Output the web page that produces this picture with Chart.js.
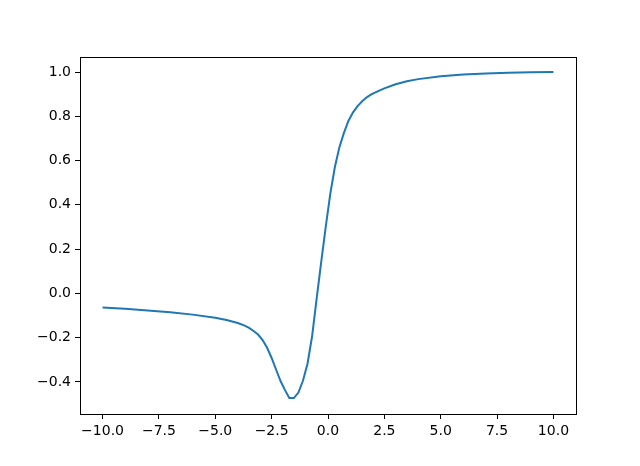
<!DOCTYPE html>
<html>
<head>
<meta charset="utf-8">
<script src="https://cdn.jsdelivr.net/npm/chart.js@4.4.0/dist/chart.umd.js"></script>
<style>
    html, body { margin: 0; padding: 0; background: #ffffff; }
    canvas { display: block; }
</style>
</head>
<body>
<canvas id="lineChart" width="640" height="466"></canvas>
<script>
// values
const xValues = [
    -10, -9, -8, -7, -6, -5, -4.5, -4, -3.7, -3.5, -3.3, -3.1, -2.9, -2.7, -2.5, -2.3, -2.1,
    -1.919, -1.717, -1.515, -1.313, -1.111, -0.909, -0.707, -0.505, -0.303, -0.101,
    0.101, 0.303, 0.505, 0.707, 0.909, 1.111, 1.313, 1.515, 1.717, 1.919,
    2.2, 2.5, 3.0, 3.5, 4.0, 5.0, 6.0, 7.0, 8.0, 9.0, 10
];
const yValues = [
    -0.064, -0.070, -0.077, -0.085, -0.096, -0.110, -0.120, -0.134, -0.146, -0.156, -0.170, -0.186, -0.211, -0.246, -0.292, -0.345, -0.397,
    -0.435, -0.473, -0.473, -0.448, -0.395, -0.318, -0.195, -0.025, 0.140, 0.300,
    0.450, 0.570, 0.660, 0.725, 0.780, 0.818, 0.846, 0.868, 0.886, 0.899,
    0.913, 0.926, 0.945, 0.958, 0.968, 0.981, 0.989, 0.994, 0.997, 0.999, 1.000
];
const xTickStep = 2.5;
const yTickStep = 0.2;

const FONT = "'DejaVu Sans', sans-serif";

// matplotlib style minus sign
function fmt(v) {
    return v.toFixed(1).replace('-', '\u2212');
}

// draw the top and right spines too
const boxPlugin = {
    id: 'axesBox',
    afterDraw(chart) {
        const a = chart.chartArea;
        const ctx = chart.ctx;
        ctx.save();
        ctx.strokeStyle = '#000000';
        ctx.lineWidth = 1;
        ctx.strokeRect(Math.round(a.left) + 0.5, Math.round(a.top) + 0.5,
            Math.round(a.right - a.left), Math.round(a.bottom - a.top));
        ctx.restore();
    }
};

const ctx = document.getElementById('lineChart');
new Chart(ctx, {
    type: 'line',
    data: {
        datasets: [{
            data: xValues.map((x, i) => ({ x: x, y: yValues[i] })),
            borderColor: '#1f77b4',
            borderWidth: 2,
            pointRadius: 0,
            tension: 0,
            fill: false,
        }]
    },
    options: {
        responsive: false,
        animation: false,
        layout: { padding: { left: 0, right: 64, top: 57, bottom: 0 } },
        plugins: {
            legend: { display: false },
            tooltip: { enabled: false },
        },
        scales: {
            x: {
                type: 'linear',
                min: -11,
                max: 11,
                afterFit: (scale) => { scale.height = 52; },
                grid: {
                    drawOnChartArea: false,
                    drawTicks: true,
                    tickLength: 5,
                    tickColor: '#000000',
                },
                border: { display: true, color: '#000000', width: 1 },
                ticks: {
                    stepSize: xTickStep,
                    includeBounds: false,
                    autoSkip: false,
                    maxRotation: 0,
                    padding: 4,
                    color: '#000000',
                    font: { family: FONT, size: 14 },
                    callback: (v) => fmt(v),
                }
            },
            y: {
                type: 'linear',
                min: -0.545,
                max: 1.068,
                afterFit: (scale) => { scale.width = 80; },
                grid: {
                    drawOnChartArea: false,
                    drawTicks: true,
                    tickLength: 5,
                    tickColor: '#000000',
                },
                border: { display: true, color: '#000000', width: 1 },
                ticks: {
                    stepSize: yTickStep,
                    includeBounds: false,
                    autoSkip: false,
                    padding: 4,
                    color: '#000000',
                    font: { family: FONT, size: 14 },
                    callback: (v) => fmt(v),
                }
            }
        }
    },
    plugins: [boxPlugin]
});
</script>
</body>
</html>
